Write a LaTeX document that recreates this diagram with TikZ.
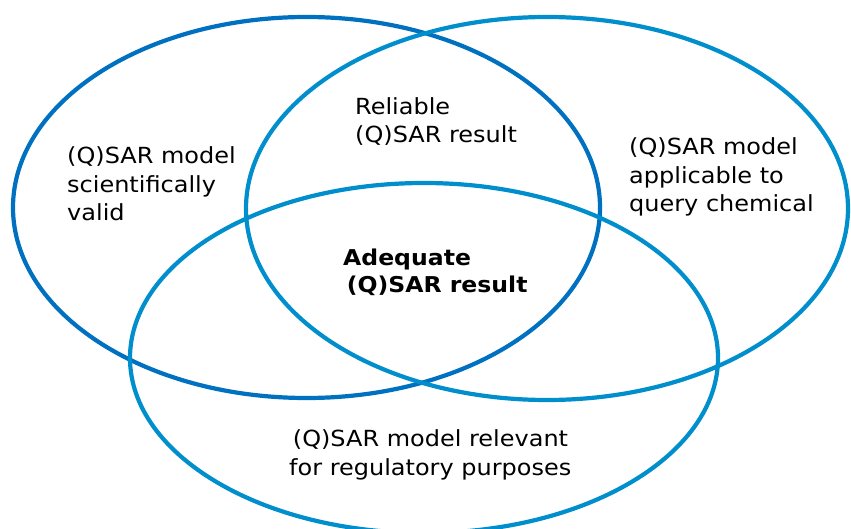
\documentclass[tikz,border=0pt]{standalone}
\usepackage{fontspec}
\setmainfont[FakeStretch=1.08]{DejaVu Sans}
\definecolor{darkblue}{RGB}{0,112,192}
\definecolor{lightblue}{RGB}{0,142,204}
\tikzset{
  setring/.style={line width=4.2pt},
  label/.style={anchor=base west, inner sep=0pt, align=left, text=black,
    font=\fontsize{22.2}{28.5}\selectfont},
  boldlabel/.style={label, font=\fontsize{21.8}{27}\selectfont\bfseries}
}
\begin{document}
\begin{tikzpicture}[x=1pt,y=-1pt]
\useasboundingbox (0,0) rectangle (851,529);
\clip (0,0) rectangle (851,529);
\draw[setring, darkblue] (306.5,207.5) ellipse [x radius=293.5, y radius=190.5];
\draw[setring, lightblue] (547,208.5) ellipse [x radius=301, y radius=191.5];
\draw[setring, lightblue] (424,358) ellipse [x radius=294, y radius=175];
\node[label] (valid) at (67,221) {(Q)SAR model\\scientifically\\valid};
\node[label] (reliable) at (355,143) {Reliable\\(Q)SAR result};
\node[label] (applicable) at (629,212) {(Q)SAR model\\applicable to\\query chemical};
\node[boldlabel] (adequate) at (343,292) {Adequate\\\,(Q)SAR result};
\node[label] (relevant) at (289,475) {\,(Q)SAR model relevant\\for regulatory purposes};
\end{tikzpicture}
\end{document}
